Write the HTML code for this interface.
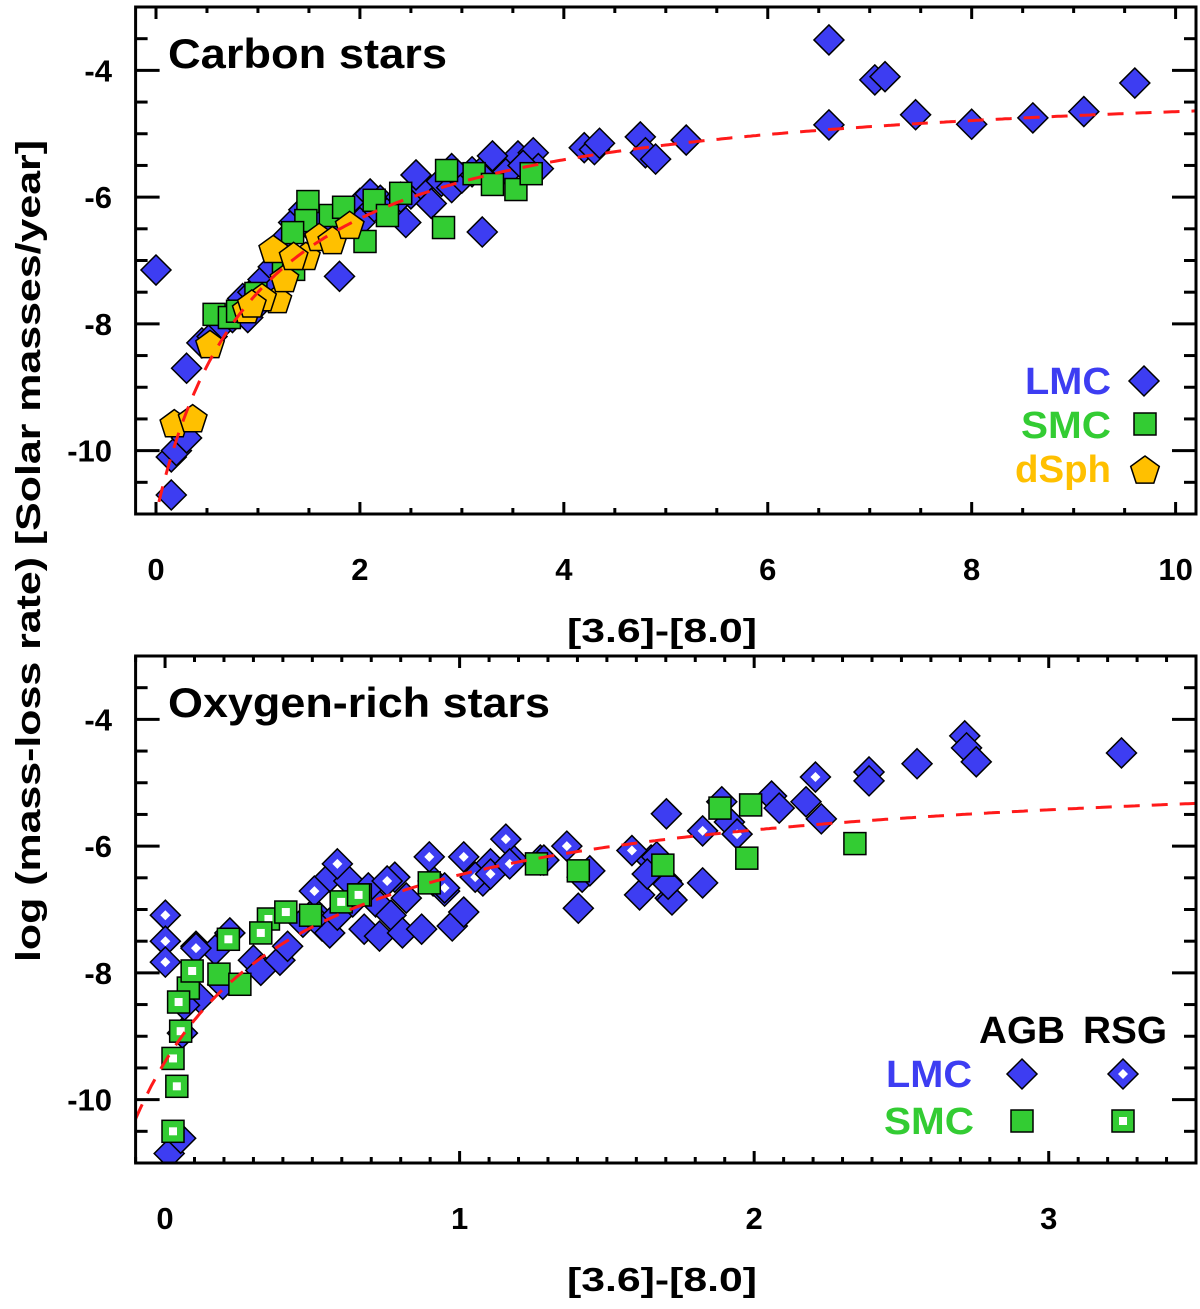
<!DOCTYPE html>
<html><head><meta charset="utf-8"><style>
html,body{margin:0;padding:0;background:#fff;}
svg text{font-family:"Liberation Sans",Arial,sans-serif;font-weight:bold;}
</style></head><body>
<svg id="chart" width="1200" height="1304" viewBox="0 0 1200 1304" xmlns="http://www.w3.org/2000/svg">
<text x="0" y="0" transform="translate(40,551) rotate(-90)" text-anchor="middle" font-size="34" textLength="822" lengthAdjust="spacingAndGlyphs">log (mass-loss rate) [Solar masses/year]</text>
</svg>
<script>
// ---- Top panel data (Carbon stars) ----
const carbonLmcX = [0.0,0.15,0.15,0.2,0.3,0.3,0.45,0.55,0.65,0.75,0.85,0.95,1.05,1.15,1.25,1.3,1.35,1.45,1.5,1.6,1.7,1.8,1.9,2.0,2.05,2.1,2.2,2.3,2.4,2.45,2.5,2.6,2.7,2.8,2.9,3.0,3.1,3.2,3.25,3.35,3.45,3.55,3.7,3.75,4.2,4.3,4.35,4.75,4.8,4.9,5.2,6.6,6.6,7.05,7.15,7.45,8.0,8.6,9.1,9.6,2.55,2.9,3.3,3.6,2.0,1.2,1.0,0.9];
const carbonLmcY = [-7.15,-10.7,-10.1,-10.0,-9.8,-8.7,-8.3,-8.2,-8.0,-7.9,-7.6,-7.5,-7.3,-7.1,-6.9,-6.6,-6.4,-6.2,-6.45,-6.4,-6.5,-7.25,-6.3,-6.1,-6.3,-5.95,-6.05,-6.2,-6.0,-6.4,-5.95,-5.8,-6.1,-5.75,-5.85,-5.7,-5.6,-6.55,-5.5,-5.45,-5.6,-5.35,-5.3,-5.55,-5.22,-5.25,-5.15,-5.05,-5.3,-5.4,-5.1,-3.52,-4.86,-4.15,-4.1,-4.7,-4.85,-4.75,-4.65,-4.2,-5.65,-5.55,-5.35,-5.5,-6.4,-7.4,-7.7,-7.9];
const carbonSmcX = [1.49,1.47,1.34,1.71,1.84,2.05,2.14,2.27,2.4,2.82,2.85,3.12,3.3,3.53,3.68,0.57,0.72,0.8,0.98,1.25,1.35];
const carbonSmcY = [-6.07,-6.37,-6.56,-6.29,-6.16,-6.7,-6.05,-6.29,-5.94,-6.48,-5.58,-5.63,-5.8,-5.88,-5.63,-7.85,-7.9,-7.8,-7.52,-7.03,-7.14];
const carbonDsphX = [0.18,0.36,0.53,0.89,1.15,1.19,1.26,1.47,1.35,1.6,1.73,1.9,1.04,0.94];
const carbonDsphY = [-9.59,-9.51,-8.34,-7.79,-6.84,-7.63,-7.3,-6.95,-6.95,-6.65,-6.7,-6.46,-7.6,-7.7];
// ---- Bottom panel data (Oxygen-rich stars) ----
const oLmcAgbX = [0.014,0.053,0.059,0.105,0.17,0.22,0.30,0.325,0.39,0.416,0.468,0.507,0.533,0.559,0.585,0.637,0.676,0.715,0.728,0.767,0.806,0.819,0.871,0.91,0.949,0.975,1.014,1.079,1.105,1.183,1.274,1.403,1.416,1.442,1.611,1.715,1.702,1.702,1.65,0.196,0.118,0.066,0.559,0.624,0.69,0.78,1.669,1.637,1.721,1.708,1.825,1.89,1.916,2.059,2.085,2.176,2.228,2.39,2.39,2.553,2.715,2.721,2.754,3.247];
const oLmcAgbY = [-10.85,-10.61,-8.95,-7.58,-7.64,-7.37,-7.8,-7.96,-7.8,-7.58,-7.2,-7.04,-7.26,-7.37,-7.09,-6.88,-7.31,-6.88,-7.42,-7.09,-7.37,-6.82,-7.31,-6.55,-6.71,-7.26,-7.04,-6.55,-6.28,-6.22,-6.22,-6.98,-6.49,-6.39,-6.77,-6.82,-6.55,-5.49,-6.22,-8.18,-8.4,-8.51,-6.49,-6.55,-6.66,-6.49,-6.17,-6.44,-6.85,-6.6,-6.58,-5.3,-5.62,-5.21,-5.4,-5.3,-5.57,-4.83,-4.97,-4.7,-4.26,-4.45,-4.67,-4.53];
const oLmcRsgX = [0.001,0.001,0.001,0.105,0.507,0.585,0.754,0.897,0.949,1.014,1.053,1.105,1.157,1.17,1.286,1.364,1.585,1.825,1.942,2.208];
const oLmcRsgY = [-7.09,-7.5,-7.83,-7.61,-6.71,-6.28,-6.55,-6.17,-6.66,-6.17,-6.49,-6.44,-5.89,-6.28,-6.22,-6.0,-6.07,-5.76,-5.81,-4.91];
const oSmcAgbX = [0.079,0.183,0.254,0.494,0.663,0.897,1.261,1.403,1.69,1.884,1.988,1.975,2.342];
const oSmcAgbY = [-8.24,-8.02,-8.18,-7.09,-6.77,-6.58,-6.28,-6.39,-6.30,-5.40,-5.35,-6.19,-5.96];
const oSmcRsgX = [0.027,0.04,0.027,0.053,0.046,0.092,0.215,0.351,0.41,0.325,0.598,0.657];
const oSmcRsgY = [-9.35,-9.79,-10.5,-8.92,-8.46,-7.97,-7.47,-7.15,-7.04,-7.37,-6.88,-6.77];
// tick labels
const topXTicks = [0,2,4,6,8,10];
const botXTicks = [0,1,2,3];
const yTicks = [-4,-6,-8,-10];

const BLUE="#3d3df2", GREEN="#33cc33", ORANGE="#ffc000", RED="#ff1a1a";
const NS="http://www.w3.org/2000/svg";
const svg=document.getElementById('chart');
function mk(tag,attrs,parent){const e=document.createElementNS(NS,tag);for(const k in attrs)e.setAttribute(k,attrs[k]);(parent||svg).appendChild(e);return e;}

function panel(cfg){
  const L=135.6,R=1196,T=cfg.top,B=cfg.bottom;
  const sx=v=>L+(v-cfg.x0)/(cfg.x1-cfg.x0)*(R-L);
  const sy=v=>T+(cfg.y1-v)/(cfg.y1-cfg.y0)*(B-T);
  const g=mk('g',{});
  
  
  const clip=mk('clipPath',{id:cfg.name+'-clip'},g);
  mk('rect',{x:L,y:T,width:R-L,height:B-T},clip);
  const tk=mk('g',{stroke:'#000','stroke-width':3},g);
  
  
  for(let v=Math.ceil(cfg.x0/cfg.xm)*cfg.xm;v<=cfg.x1+1e-9;v+=cfg.xm){
    const major=Math.abs(v/cfg.xM-Math.round(v/cfg.xM))<1e-6;const len=major?12:6;const x=sx(v);
    mk('line',{x1:x,y1:B,x2:x,y2:B-len},tk);mk('line',{x1:x,y1:T,x2:x,y2:T+len},tk);
  }
  for(let v=cfg.y0;v<=cfg.y1+1e-9;v+=0.5){
    const major=Math.abs(v/2-Math.round(v/2))<1e-6;const len=major?24:12;const y=sy(v);
    mk('line',{x1:L,y1:y,x2:L+len,y2:y},tk);mk('line',{x1:R,y1:y,x2:R-len,y2:y},tk);
  }
  cfg.xt.forEach(v=>{const t=mk('text',{x:sx(v),y:B+66,'text-anchor':'middle','font-size':31},g);t.textContent=v;
    });
  yTicks.forEach(v=>{const t=mk('text',{x:112,y:sy(v)+11,'text-anchor':'end','font-size':31},g);t.textContent=v;
    });
  const xt=mk('text',{x:cfg.xtitleX,y:B+128,'text-anchor':'middle','font-size':33,textLength:190,lengthAdjust:'spacingAndGlyphs'},g);xt.textContent='[3.6]-[8.0]';
  
  const tt=mk('text',{x:168,y:T+61,'font-size':42,textLength:cfg.titleW,lengthAdjust:'spacingAndGlyphs'},g);tt.textContent=cfg.title;
  
  const marks=mk('g',{'clip-path':'url(#'+cfg.name+'-clip)'},g);
  
  
  let d='';for(let i=0;i<=400;i++){const x=cfg.x0+(cfg.x1-cfg.x0)*i/400;const y=cfg.fit(x);if(!isFinite(y))continue;d+=(d?'L':'M')+sx(x).toFixed(1)+','+sy(Math.max(y,cfg.y0-1)).toFixed(1);}
  cfg.series.forEach(s=>{
    const sg=mk('g',{},marks);
    
    
    s.xs.forEach((xv,i)=>drawMarker(sg,s.shape,sx(xv),sy(s.ys[i]),s.color,s.hollow));
  });
  const fl=mk('path',{d:d,fill:'none',stroke:RED,'stroke-width':3,'stroke-dasharray':'16,12'},marks);
  
  
  mk('rect',{x:L,y:T,width:R-L,height:B-T,fill:'none',stroke:'#000','stroke-width':3},g);
}
function drawMarker(par,shape,x,y,color,hollow){
  let e;
  if(shape==='diamond'){
    e=mk('path',{d:`M${x},${y-15}L${x+15},${y}L${x},${y+15}L${x-15},${y}Z`,fill:color,stroke:'#000','stroke-width':1.5},par);
    if(hollow)mk('path',{d:`M${x},${y-5}L${x+5},${y}L${x},${y+5}L${x-5},${y}Z`,fill:'#fff'},par);
  }else if(shape==='square'){
    e=mk('rect',{x:x-11,y:y-11,width:22,height:22,fill:color,stroke:'#000','stroke-width':1.5},par);
    if(hollow)mk('rect',{x:x-4,y:y-4,width:8,height:8,fill:'#fff'},par);
  }else{
    let p=[];for(let k=0;k<5;k++){const a=-Math.PI/2+k*2*Math.PI/5;p.push((x+15*Math.cos(a)).toFixed(1)+','+(y+15*Math.sin(a)).toFixed(1));}
    e=mk('polygon',{points:p.join(' '),fill:color,stroke:'#000','stroke-width':1.5},par);
  }
  
  
}
panel({name:'carbon-panel',top:7,bottom:514,x0:-0.2,x1:10.2,y0:-11,y1:-3,xm:0.5,xM:2,xt:topXTicks,xtitleX:662,title:'Carbon stars',titleW:279,
  fit:x=>-4.02-6.94/(x+0.994),
  series:[{name:'carbon-lmc',shape:'diamond',color:BLUE,xs:carbonLmcX,ys:carbonLmcY},
          {name:'carbon-smc',shape:'square',color:GREEN,xs:carbonSmcX,ys:carbonSmcY},
          {name:'carbon-dsph',shape:'pentagon',color:ORANGE,xs:carbonDsphX,ys:carbonDsphY}]});
panel({name:'oxygen-panel',top:656,bottom:1163,x0:-0.1,x1:3.5,y0:-11,y1:-3,xm:0.1,xM:1,xt:botXTicks,xtitleX:662,title:'Oxygen-rich stars',titleW:382,
  fit:x=>-4.59-3.04/(x+0.632),
  series:[{name:'oxygen-lmc-agb',shape:'diamond',color:BLUE,xs:oLmcAgbX,ys:oLmcAgbY},
          {name:'oxygen-lmc-rsg',shape:'diamond',color:BLUE,hollow:true,xs:oLmcRsgX,ys:oLmcRsgY},
          {name:'oxygen-smc-agb',shape:'square',color:GREEN,xs:oSmcAgbX,ys:oSmcAgbY},
          {name:'oxygen-smc-rsg',shape:'square',color:GREEN,hollow:true,xs:oSmcRsgX,ys:oSmcRsgY}]});
function ltext(txt,x,y,color,name,w){const t=mk('text',{x:x,y:y,'text-anchor':'end','font-size':38,fill:color,textLength:w,lengthAdjust:'spacingAndGlyphs'});t.textContent=txt;
  return t;}
const lg1=mk('g',{});


ltext('LMC',1111,394,BLUE,'legend-lmc',86);drawMarker(lg1,'diamond',1144,381,BLUE);
ltext('SMC',1111,438,GREEN,'legend-smc',90);drawMarker(lg1,'square',1145,424,GREEN);
ltext('dSph',1111,482,ORANGE,'legend-dsph',96);drawMarker(lg1,'pentagon',1145,471,ORANGE);
const lg2=mk('g',{});


const ag=mk('text',{x:1022,y:1043,'text-anchor':'middle','font-size':38,textLength:86,lengthAdjust:'spacingAndGlyphs'});ag.textContent='AGB';

const rs=mk('text',{x:1125,y:1043,'text-anchor':'middle','font-size':38,textLength:84,lengthAdjust:'spacingAndGlyphs'});rs.textContent='RSG';

ltext('LMC',972,1087,BLUE,'legend-lmc',86);drawMarker(lg2,'diamond',1022,1074,BLUE);drawMarker(lg2,'diamond',1123,1074,BLUE,true);
ltext('SMC',974,1134,GREEN,'legend-smc',90);drawMarker(lg2,'square',1022,1121,GREEN);drawMarker(lg2,'square',1123,1121,GREEN,true);
</script>
</body></html>
